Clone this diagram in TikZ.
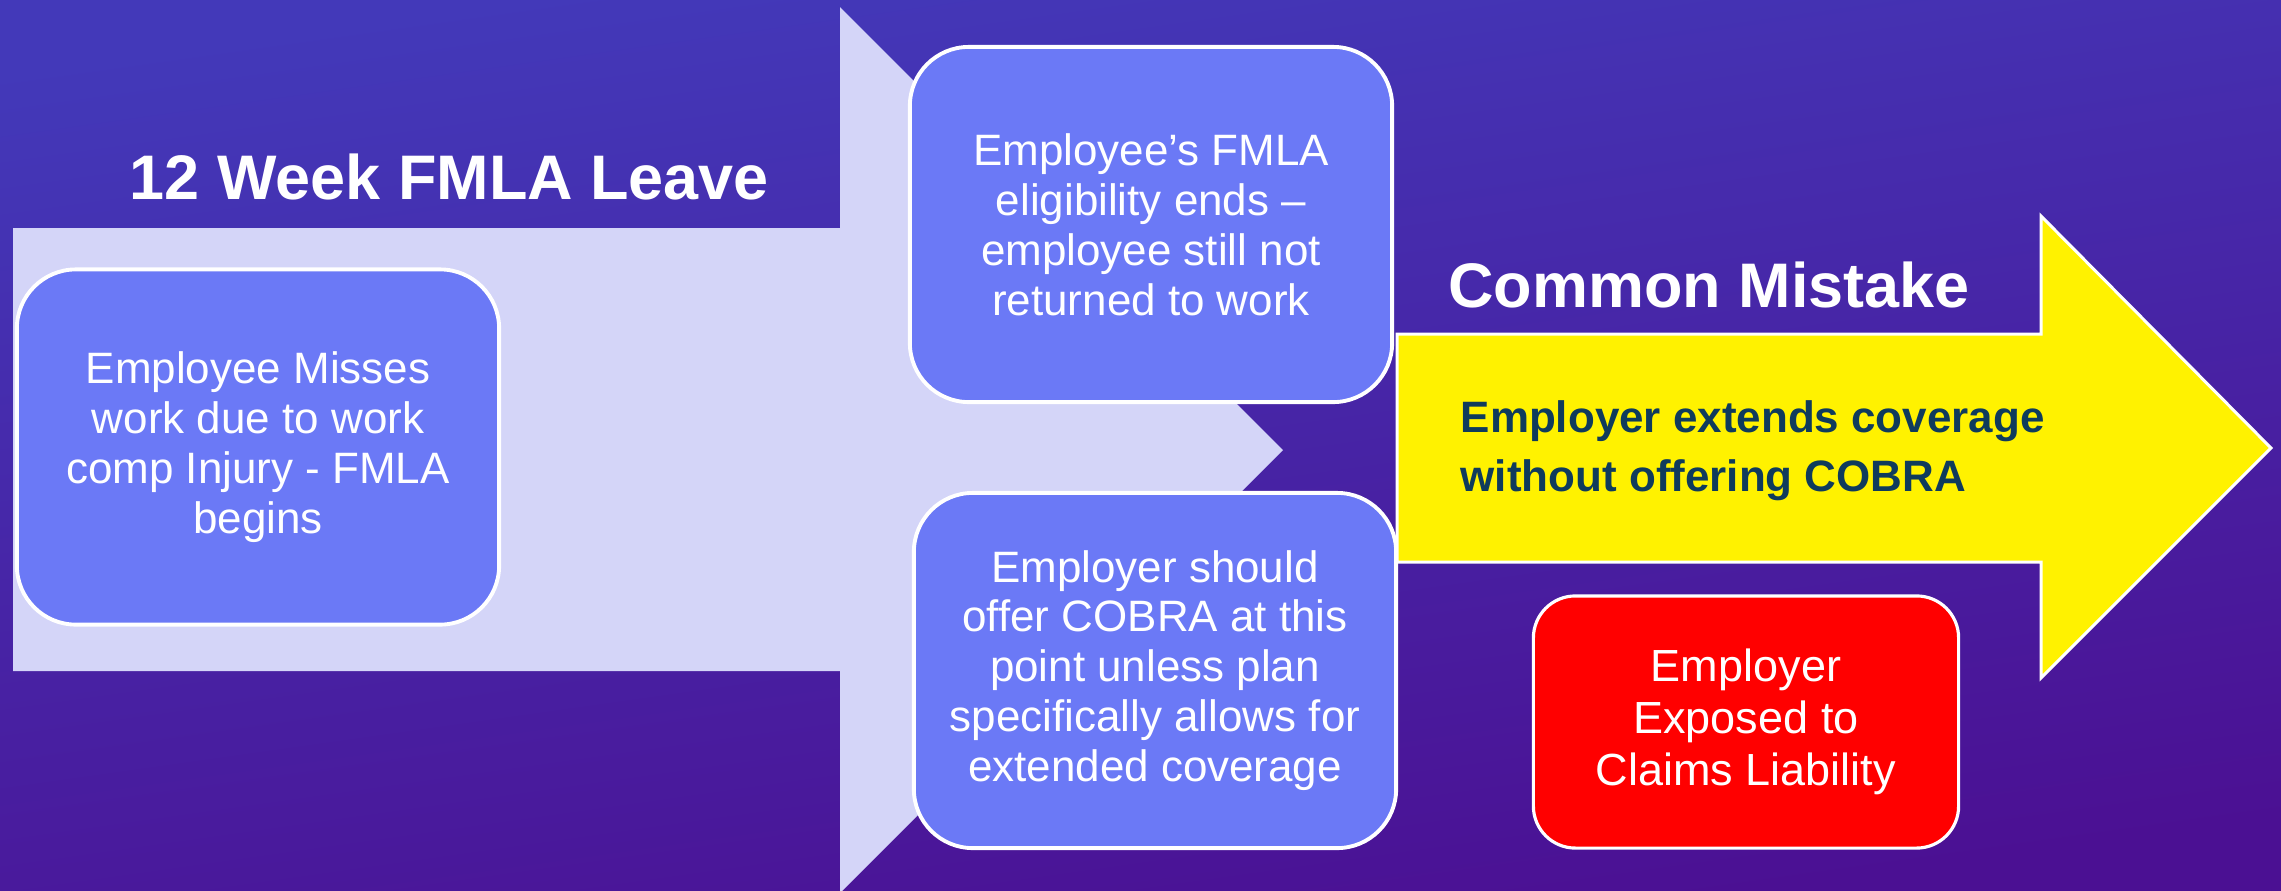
\documentclass[tikz,border=0pt]{standalone}
\usepackage{fontspec}
\setmainfont{Liberation Sans}
\definecolor{bgtop}{HTML}{4339B9}
\definecolor{bgmid}{HTML}{491CA0}
\definecolor{bgbot}{HTML}{4B1093}
\definecolor{lilac}{HTML}{D4D5F8}
\definecolor{boxblue}{HTML}{6B79F6}
\definecolor{navy}{HTML}{0F3B5C}
\definecolor{alertred}{HTML}{FF0000}
\begin{document}
\begin{tikzpicture}[x=0.01cm,y=-0.01cm,
  bodytext/.style={text=white,align=center,font=\fontsize{12.5pt}{14.2pt}\selectfont},
  stagebox/.style={draw=white,line width=1.1pt,fill=boxblue,rounded corners=0.59cm,
    minimum width=4.82cm,minimum height=3.55cm,inner sep=0pt,bodytext},
  riskbox/.style={draw=white,line width=0.9pt,fill=alertred,rounded corners=0.42cm,
    minimum width=4.25cm,minimum height=2.52cm,inner sep=0pt,text=white,align=center,
    font=\fontsize{12.8pt}{14.8pt}\selectfont},
  headline/.style={text=white,inner sep=0pt,font=\bfseries\fontsize{17.9pt}{20pt}\selectfont},
  calloutline/.style={text=navy,inner sep=0pt,align=left,font=\bfseries\fontsize{12.5pt}{16.8pt}\selectfont}
]
\useasboundingbox (0,0) rectangle (2281,890);

% background: blue along the top, deepening to purple below and to the right
\shade[top color=bgtop,middle color=bgmid,bottom color=bgbot,shading angle=8]
  (0,0) rectangle (2281,890);

% broad FMLA period arrow
\fill[lilac] (13,228) -- (840,228) -- (840,7) -- (1283,450) -- (840,893)
  -- (840,671) -- (13,671) -- cycle;

% stage boxes
\node[stagebox] (misses) at (258,447)
  {Employee Misses\\work due to work\\comp Injury - FMLA\\begins};
\node[stagebox] (ends) at (1151,224.5)
  {Employee’s FMLA\\eligibility ends –\\employee still not\\returned to work};
\node[stagebox] (offer) at (1155,670.5)
  {Employer should\\offer COBRA at this\\point unless plan\\specifically allows for\\extended coverage};

% callout arrow
\filldraw[fill=yellow,draw=white,line width=0.85pt,line join=miter]
  (1397,334) -- (2041,334) -- (2041,216) -- (2271,448) -- (2041,678)
  -- (2041,562) -- (1397,562) -- cycle;

% consequence box
\node[riskbox] (exposed) at (1746,722)
  {Employer\\Exposed to\\Claims Liability};

% headings and callout text
\node[headline,anchor=base] (leave) at (449.5,199) {12 Week FMLA Leave};
\node[headline,anchor=base] (common) at (1709,307) {Common Mistake};
\node[calloutline,anchor=west] (extends) at (1460,451)
  {Employer extends coverage\\without offering COBRA};
\end{tikzpicture}
\end{document}
